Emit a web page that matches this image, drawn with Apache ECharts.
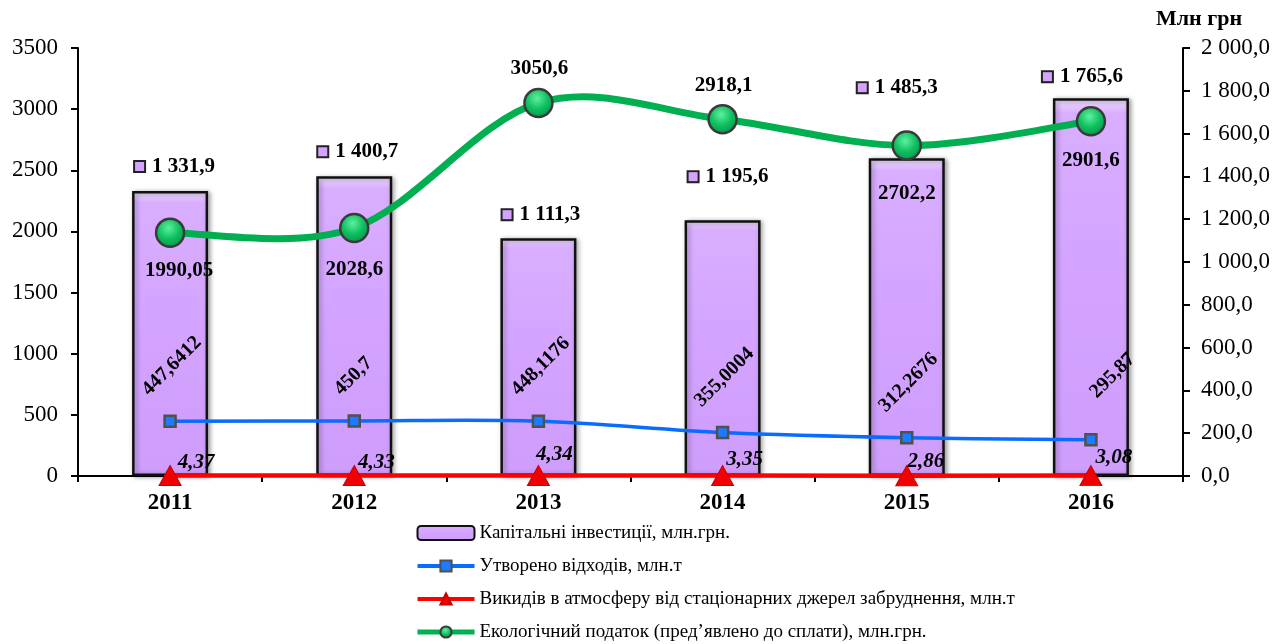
<!DOCTYPE html>
<html>
<head>
<meta charset="utf-8">
<title>Інвестиції та екологія</title>
<script src="https://cdn.jsdelivr.net/npm/echarts@6/dist/echarts.min.js"></script>
<style>
    html, body {margin: 0; padding: 0; background: #fff;}
    #chart {width: 1288px; height: 644px;}
</style>
</head>
<body>
<div id="chart"></div>
<script>
// дані
var years = ['2011', '2012', '2013', '2014', '2015', '2016'];
var investments = [1331.9, 1400.7, 1111.3, 1195.6, 1485.3, 1765.6];   // млн.грн, права вісь
var waste = [447.6412, 450.7, 448.1176, 355.0004, 312.2676, 295.87];  // млн.т
var emissions = [4.37, 4.33, 4.34, 3.35, 2.86, 3.08];                 // млн.т
var ecoTax = [1990.05, 2028.6, 3050.6, 2918.1, 2702.2, 2901.6];       // млн.грн

var seriesNames = [
    'Капітальні інвестиції, млн.грн.',
    'Утворено відходів, млн.т',
    'Викидів в атмосферу від стаціонарних джерел забруднення, млн.т',
    'Екологічний податок (пред’явлено до сплати), млн.грн.'
];

// зсуви підписів (як розставлено в оригіналі)
var barLabelOffset = [[5, -9], [4, -9], [3, -8], [6, -28], [-9, -55], [-8, -6]];
var taxLabelOffset = [[9, 38], [0, 42], [1, -34], [1, -34], [0, 48], [0, 39]];
var emisLabelOffset = [[26, -13], [22, -13], [16, -21], [22, -16], [19, -14], [23, -18]];
var wasteLabelPos = [[-18, -22], [-10, -22], [-17, -22], [-18, -22], [-18, -22], [9, -38]];

var FONT = '"Liberation Serif", "Times New Roman", serif';
var LILAC = '#D3A3FF';
var GREEN = '#00B050';
var BLUE = '#0A6CFF';
var RED = '#FF0000';

function comma(v) {
    return String(v).replace('.', ',');
}
function spaced(v, digits) {
    var s = v.toFixed(digits).split('.');
    var int = s[0].replace(/\B(?=(\d{3})+(?!\d))/g, ' ');
    return s.length > 1 ? int + ',' + s[1] : int;
}

// згладжена лінія як в Excel (Catmull-Rom), точки через api.coord
function smoothLine(values, color, width) {
    return function (params, api) {
        if (params.dataIndex !== 0) return null;
        var pts = values.map(function (v, i) { return api.coord([i, v]); });
        var n = pts.length;
        var d = 'M' + pts[0][0] + ' ' + pts[0][1];
        for (var i = 0; i < n - 1; i++) {
            var p0 = pts[Math.max(i - 1, 0)], p1 = pts[i], p2 = pts[i + 1], p3 = pts[Math.min(i + 2, n - 1)];
            var c1x = p1[0] + (p2[0] - p0[0]) / 6, c1y = p1[1] + (p2[1] - p0[1]) / 6;
            var c2x = p2[0] - (p3[0] - p1[0]) / 6, c2y = p2[1] - (p3[1] - p1[1]) / 6;
            d += ' C' + c1x + ' ' + c1y + ' ' + c2x + ' ' + c2y + ' ' + p2[0] + ' ' + p2[1];
        }
        return {
            type: 'path',
            shape: {pathData: d},
            style: {stroke: color, lineWidth: width, fill: null, lineCap: 'round', lineJoin: 'round'}
        };
    };
}

var chart = echarts.init(document.getElementById('chart'));

var barData = investments.map(function (v, i) {
    return {value: v, label: {offset: barLabelOffset[i]}};
});
var taxData = ecoTax.map(function (v, i) {
    return {value: v, label: {offset: taxLabelOffset[i]}};
});
var emisData = emissions.map(function (v, i) {
    return {value: v, label: {offset: emisLabelOffset[i]}};
});
var wasteData = waste.map(function (v, i) {
    return {value: v, label: {position: wasteLabelPos[i]}};
});

var option = {
    animation: false,
    textStyle: {fontFamily: FONT, color: '#000'},
    grid: {left: 78, right: 105, top: 48, bottom: 168},
    graphic: [{
        type: 'text', left: 1156, top: 8,
        style: {text: 'Млн грн', font: 'bold 22px ' + FONT, fill: '#000'}
    }],
    legend: {
        orient: 'vertical', left: 415, top: 523, padding: 0,
        itemWidth: 57, itemHeight: 14, itemGap: 13,
        textStyle: {fontSize: 19, lineHeight: 20, fontFamily: FONT, color: '#000'},
        data: [
            {name: seriesNames[0]},
            {name: seriesNames[1], lineStyle: {color: BLUE, width: 4, opacity: 1}},
            {name: seriesNames[2], lineStyle: {color: RED, width: 4, opacity: 1}},
            {name: seriesNames[3], lineStyle: {color: GREEN, width: 5, opacity: 1}}
        ]
    },
    xAxis: {
        type: 'category', data: years,
        axisLine: {lineStyle: {color: '#000', width: 2}},
        axisTick: {show: true, length: 6, interval: 0, lineStyle: {color: '#000', width: 2}},
        axisLabel: {fontSize: 23, fontWeight: 'bold', color: '#000', margin: 16, fontFamily: FONT}
    },
    yAxis: [{
        type: 'value', min: 0, max: 3500, interval: 500,
        splitLine: {show: false},
        axisLine: {show: true, lineStyle: {color: '#000', width: 2}},
        axisTick: {show: true, length: 7, lineStyle: {color: '#000', width: 2}},
        axisLabel: {
            fontSize: 23, color: '#000', margin: 20, fontFamily: FONT,
            formatter: function (v) { return String(v); }
        }
    }, {
        type: 'value', min: 0, max: 2000, interval: 200, position: 'right',
        splitLine: {show: false},
        axisLine: {show: true, lineStyle: {color: '#000', width: 2}},
        axisTick: {show: true, length: 7, lineStyle: {color: '#000', width: 2}},
        axisLabel: {
            fontSize: 23, color: '#000', margin: 18, fontFamily: FONT,
            formatter: function (v) { return spaced(v, 1); }
        }
    }],
    series: [{
        name: seriesNames[0],
        type: 'bar', yAxisIndex: 1, barWidth: 76, z: 1,
        data: barData,
        itemStyle: {
            color: new echarts.graphic.LinearGradient(0, 0, 0, 1, [
                {offset: 0, color: '#F2E2FF'},
                {offset: 0.04, color: '#D9AEFF'},
                {offset: 0.5, color: LILAC},
                {offset: 1, color: '#CF9DFC'}
            ]),
            borderColor: '#111', borderWidth: 2.5,
            shadowColor: 'rgba(0,0,0,0.35)', shadowBlur: 5, shadowOffsetX: 2, shadowOffsetY: 1
        },
        label: {
            show: true, position: 'top', distance: 5,
            formatter: function (p) { return '{m|}{v|' + spaced(p.value, 1) + '}'; },
            rich: {
                m: {width: 9, height: 9, backgroundColor: LILAC, borderColor: '#222', borderWidth: 2},
                v: {fontSize: 21, fontWeight: 'bold', color: '#000', fontFamily: FONT, padding: [0, 0, 0, 8]}
            }
        }
    }, {
        // лінія відходів
        type: 'custom', z: 3, silent: true,
        data: waste.map(function (v, i) { return [i, v]; }),
        renderItem: smoothLine(waste, BLUE, 3.5)
    }, {
        name: seriesNames[1],
        type: 'line', z: 4,
        data: wasteData,
        symbol: 'rect', symbolSize: 11,
        lineStyle: {opacity: 0},
        itemStyle: {color: '#1C7BFF', borderColor: '#505050', borderWidth: 2.5},
        label: {
            show: true, rotate: 45,
            align: 'left', verticalAlign: 'middle',
            fontSize: 20, fontWeight: 'bold', color: '#000', fontFamily: FONT,
            formatter: function (p) { return comma(p.value); }
        }
    }, {
        name: seriesNames[2],
        type: 'line', z: 5,
        data: emisData,
        symbol: 'triangle', symbolSize: [22, 20],
        lineStyle: {color: RED, width: 4.5},
        itemStyle: {color: '#F00000', borderColor: '#C80000', borderWidth: 1},
        label: {
            show: true, position: 'inside',
            fontSize: 21, fontWeight: 'bold', fontStyle: 'italic', color: '#000', fontFamily: FONT,
            formatter: function (p) { return comma(p.value); }
        }
    }, {
        // лінія податку
        type: 'custom', z: 6, silent: true,
        data: ecoTax.map(function (v, i) { return [i, v]; }),
        renderItem: smoothLine(ecoTax, GREEN, 7)
    }, {
        name: seriesNames[3],
        type: 'line', z: 7,
        data: taxData,
        symbol: 'circle', symbolSize: 28,
        lineStyle: {opacity: 0},
        itemStyle: {
            color: new echarts.graphic.RadialGradient(0.45, 0.35, 0.7, [
                {offset: 0, color: '#5DF0A0'},
                {offset: 0.5, color: '#10C060'},
                {offset: 1, color: '#00904A'}
            ]),
            borderColor: '#3A3A3A', borderWidth: 2.5
        },
        label: {
            show: true, position: 'inside',
            fontSize: 21, fontWeight: 'bold', color: '#000', fontFamily: FONT,
            formatter: function (p) { return comma(p.value); }
        }
    }]
};

chart.setOption(option);
window.onresize = function () {
    chart.resize();
};
</script>
</body>
</html>
